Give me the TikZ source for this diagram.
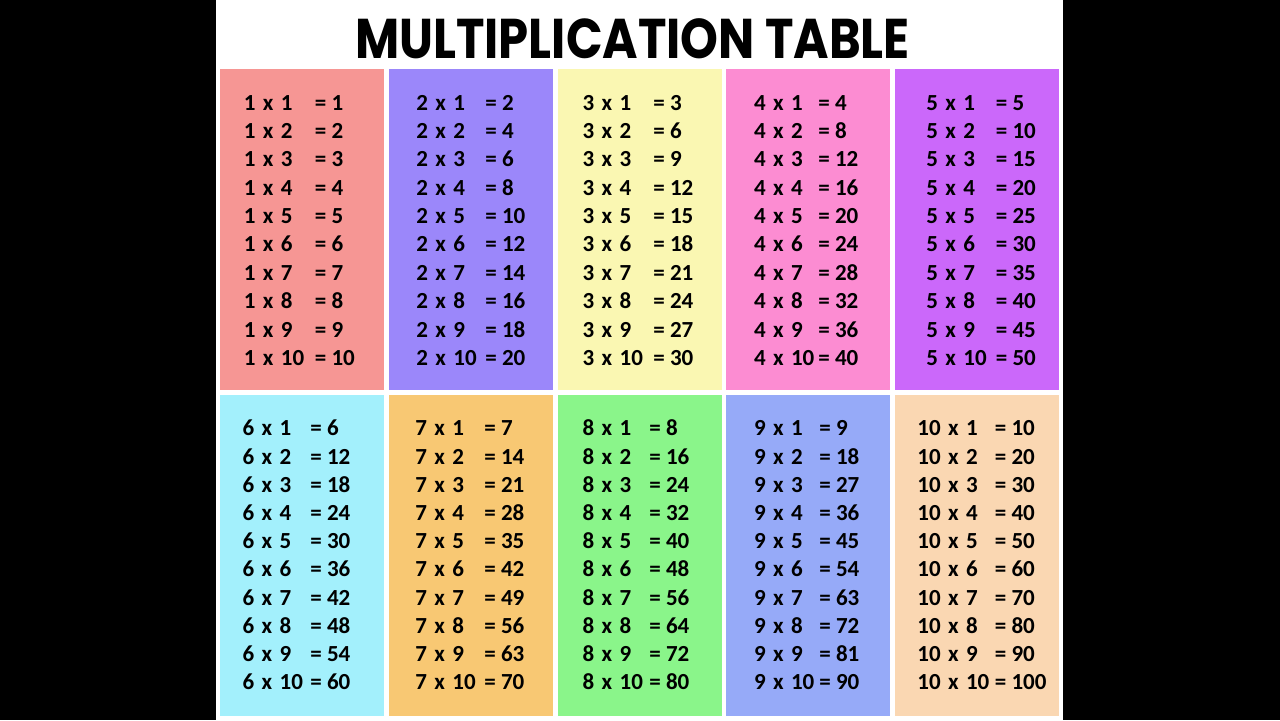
\documentclass[tikz,border=0pt]{standalone}
\usepackage{fontspec}
\setmainfont{Carlito}
\newfontfamily\titlefont{Poppins}[FakeStretch=0.86]

\definecolor{cuno}{HTML}{F69694}
\definecolor{cdos}{HTML}{9B87FA}
\definecolor{ctres}{HTML}{FAF7B2}
\definecolor{ccuatro}{HTML}{FC8CD2}
\definecolor{ccinco}{HTML}{CB68FA}
\definecolor{cseis}{HTML}{A3F0FC}
\definecolor{csiete}{HTML}{F8C873}
\definecolor{cocho}{HTML}{8AF58A}
\definecolor{cnueve}{HTML}{96AAF8}
\definecolor{cdiez}{HTML}{FAD7B2}

\newcommand*\por[2]{#1\hspace{0.32em}x\hspace{0.32em}#2}

\begin{document}
\begin{tikzpicture}[
	x=0.5pt, y=-0.5pt,
	minumero/.style ={anchor=base west, inner sep=0pt, font=\fontsize{11.5}{12}\selectfont\bfseries},
	mititulo/.style ={inner sep=0pt, font=\titlefont\bfseries\fontsize{28}{30}\selectfont}]

	\useasboundingbox (0,0) rectangle (1280,720);
	\fill [black] (0,0) rectangle (1280,720);
	\fill [white] (216,0) rectangle (1063,720);

	\node [mititulo] (T) at (632.5,39) {MULTIPLICATION TABLE};

	% panel / panel x / left text x / equals x / colour
	\foreach \n/\xp/\xa/\xb/\col in {1/220/243.5/314.5/cuno, 2/389/416/485/cdos, 3/558/582.3/653/ctres,
		4/726/753.7/818/ccuatro, 5/895/926/995.5/ccinco, 6/220/242.3/310/cseis, 7/389/415/484/csiete,
		8/558/582.3/649/cocho, 9/726/753.7/819/cnueve, 10/895/917/994.5/cdiez}{
		\pgfmathsetmacro{\fila}{\n>5 ? 1 : 0}
		\pgfmathsetmacro{\ytop}{69+326*\fila}
		\pgfmathsetmacro{\ybase}{110.2+325.7*\fila}
		\pgfmathsetmacro{\paso}{28.35-0.15*\fila}
		\fill [\col] (\xp,\ytop) rectangle ++(164,321);
		\foreach \k in {1,...,10}{
			\pgfmathtruncatemacro{\res}{\n*\k}
			\node [minumero] (L\n-\k) at (\xa,\ybase+\paso*\k-\paso) {\por{\n}{\k}};
			\node [minumero] (R\n-\k) at (\xb,\ybase+\paso*\k-\paso) {= \res};
		}
	}

\end{tikzpicture}
\end{document}
